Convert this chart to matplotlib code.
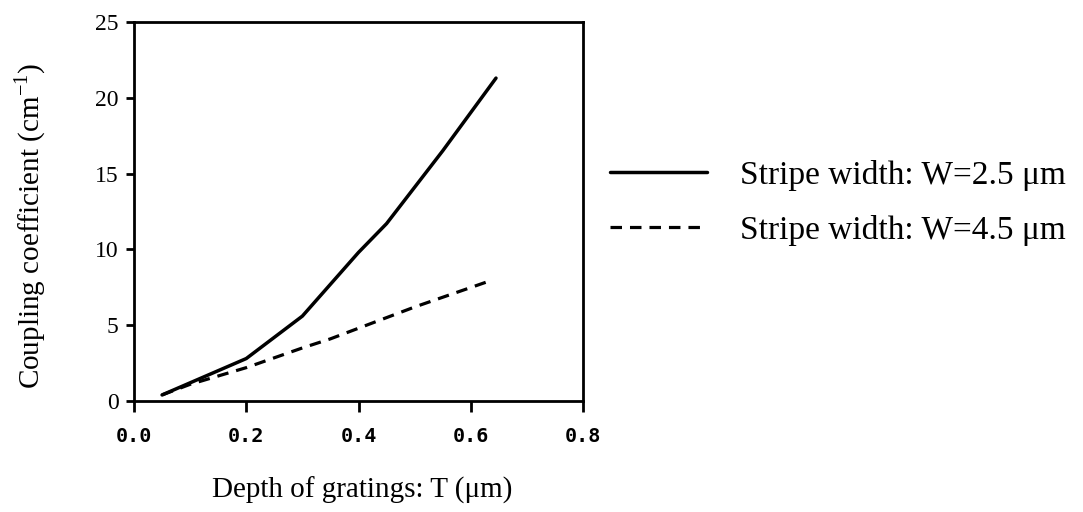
import numpy as np
import matplotlib
matplotlib.use("Agg")
import matplotlib.pyplot as plt

# data
depth_w25 = [0.05, 0.10, 0.15, 0.20, 0.30, 0.40, 0.45, 0.55, 0.645]
kappa_w25 = [0.4, 1.2, 2.0, 2.8, 5.6, 9.8, 11.7, 16.5, 21.3]
depth_w45 = [0.05, 0.10, 0.20, 0.30, 0.35, 0.40, 0.50, 0.64]
kappa_w45 = [0.4, 1.1, 2.2, 3.5, 4.1, 4.8, 6.2, 8.0]

labels = ["Stripe width: W=2.5 \u03bcm", "Stripe width: W=4.5 \u03bcm"]
xticks = [0.0, 0.2, 0.4, 0.6, 0.8]
yticks = [0, 5, 10, 15, 20, 25]

plt.rcParams['font.family'] = ['Liberation Serif', 'DejaVu Serif']
plt.rcParams['mathtext.fontset'] = 'custom'
plt.rcParams['mathtext.rm'] = 'Liberation Serif'

fig = plt.figure(figsize=(10.83, 5.12), dpi=100)
ax = fig.add_axes([134 / 1083, 1 - 401 / 512, 449 / 1083, 379 / 512])

ax.plot(depth_w25, kappa_w25, color="black", lw=2.5, solid_capstyle="round", label=labels[0])
ax.plot(depth_w45, kappa_w45, color="black", lw=2.3, dashes=(3.6, 2.5), label=labels[1])

ax.set_xlim(0, 0.8)
ax.set_ylim(0, 25)
ax.set_xticks(xticks)
ax.set_yticks(yticks)
ax.set_xticklabels(["%.1f" % t for t in xticks], fontfamily="DejaVu Sans Mono",
                   fontweight="bold", fontsize=14.5)
ax.set_yticklabels([str(t) for t in yticks], fontsize=17)

for s in ax.spines.values():
    s.set_linewidth(2)
ax.tick_params(axis="x", direction="out", length=8, width=2, pad=11)
ax.tick_params(axis="y", direction="out", length=6, width=2, pad=5)

# label positions in pixels of the reference, turned into axes fractions
ax.set_xlabel("Depth of gratings: T (\u03bcm)", fontsize=21)
ax.xaxis.set_label_coords((362 - 134) / 449, (401 - 477) / 379)
ax.set_ylabel("Coupling coefficient (cm$^{\\mathregular{-1}}$)", fontsize=21)
ax.yaxis.set_label_coords((48 - 134) / 449, (401 - 226) / 379)

leg = ax.legend(loc="upper left", bbox_to_anchor=(610 / 1083, 1 - 160 / 512),
                bbox_transform=fig.transFigure, frameon=False, fontsize=24,
                borderpad=0, borderaxespad=0,
                handlelength=2.9, handletextpad=1.0, labelspacing=0.72)

fig.savefig("out.png", dpi=100)
